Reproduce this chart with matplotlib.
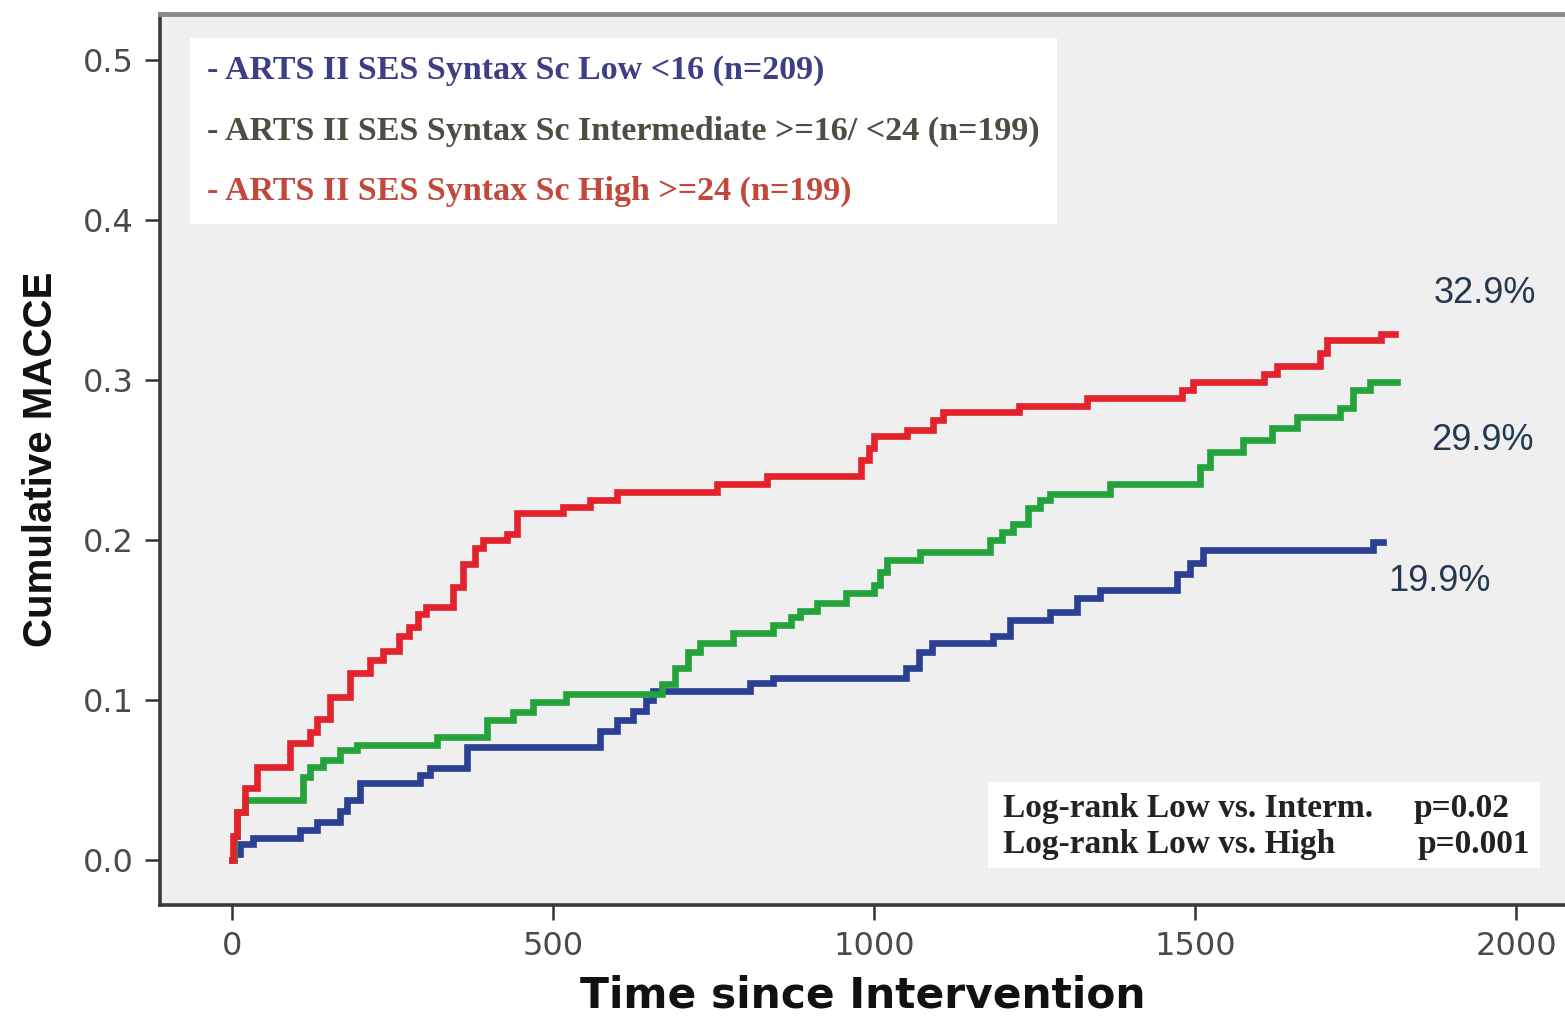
import matplotlib
matplotlib.use("Agg")
import matplotlib.pyplot as plt
from matplotlib.patches import Rectangle
from matplotlib.lines import Line2D

# ---- data ----
series_names = ["- ARTS II SES Syntax Sc Low <16 (n=209)",
                "- ARTS II SES Syntax Sc Intermediate >=16/ <24 (n=199)",
                "- ARTS II SES Syntax Sc High >=24 (n=199)"]

low_t = [0, 3, 12, 33, 106, 132, 168, 179, 199, 293, 308, 366, 573, 599, 625, 645, 656,
         807, 843, 1050, 1070, 1091, 1185, 1211, 1274, 1316, 1352, 1471, 1492, 1512, 1777, 1793]
low_v = [0, 0.004, 0.01, 0.014, 0.019, 0.024, 0.031, 0.0375, 0.048, 0.053, 0.0575, 0.071,
         0.081, 0.0875, 0.093, 0.1, 0.106, 0.111, 0.114, 0.12, 0.13, 0.136, 0.14, 0.15,
         0.155, 0.164, 0.169, 0.179, 0.186, 0.194, 0.199, 0.199]

int_t = [0, 3, 8, 20, 111, 121, 142, 168, 195, 319, 397, 438, 469, 521, 670, 690, 710, 729,
         780, 843, 870, 884, 911, 957, 1000, 1010, 1020, 1071, 1180, 1200, 1217, 1240, 1258,
         1274, 1367, 1507, 1523, 1574, 1620, 1658, 1725, 1746, 1772, 1815]
int_v = [0, 0.015, 0.03, 0.0375, 0.052, 0.058, 0.0625, 0.069, 0.072, 0.077, 0.0875, 0.0925,
         0.099, 0.104, 0.11, 0.12, 0.13, 0.136, 0.142, 0.147, 0.152, 0.156, 0.161, 0.167,
         0.172, 0.18, 0.1875, 0.1925, 0.2, 0.205, 0.21, 0.22, 0.225, 0.229, 0.235, 0.246,
         0.255, 0.2625, 0.27, 0.277, 0.283, 0.294, 0.299, 0.299]

high_t = [0, 2, 8, 20, 39, 90, 121, 132, 153, 184, 215, 235, 260, 275, 290, 303, 344, 360,
          378, 391, 428, 444, 516, 557, 599, 755, 833, 980, 992, 1000, 1051, 1092, 1107,
          1225, 1331, 1480, 1497, 1608, 1627, 1694, 1705, 1790, 1812]
high_v = [0, 0.015, 0.03, 0.045, 0.058, 0.073, 0.08, 0.088, 0.102, 0.117, 0.125, 0.131,
          0.14, 0.146, 0.154, 0.158, 0.171, 0.185, 0.195, 0.2, 0.204, 0.217, 0.221, 0.225,
          0.23, 0.235, 0.24, 0.25, 0.258, 0.265, 0.269, 0.275, 0.28, 0.284, 0.289, 0.294,
          0.299, 0.304, 0.309, 0.317, 0.325, 0.329, 0.329]

end_labels = ["19.9%", "29.9%", "32.9%"]
xticks = [0, 500, 1000, 1500, 2000]
yticks = [0.0, 0.1, 0.2, 0.3, 0.4, 0.5]
logrank_tests = ["Log-rank Low vs. Interm.", "Log-rank Low vs. High"]
logrank_p = ["p=0.02", "p=0.001"]

# ---- styles ----
line_colors = ["#2b3f93", "#25a33b", "#e2232d"]
legend_colors = ["#3d3f86", "#4d4d40", "#c2483c"]

fig = plt.figure(figsize=(15.65, 10.19), dpi=100)
fig.patch.set_facecolor("white")
ax = fig.add_axes([160 / 1565, 1 - 905 / 1019, 1 - 160 / 1565, (905 - 14) / 1019])
ax.set_facecolor("#efefef")

for t, v, c in zip([low_t, int_t, high_t], [low_v, int_v, high_v], line_colors):
    ax.step(t, v, where="post", color=c, lw=4.8, solid_joinstyle="miter", zorder=3)

ax.set_xlim(-112, 2076)
ax.set_ylim(-0.028, 0.529)
ax.set_xticks(xticks)
ax.set_xticklabels([str(x) for x in xticks])
ax.set_yticks(yticks)
ax.set_yticklabels(["%.1f" % y for y in yticks])
ax.tick_params(axis="both", direction="out", length=11, width=1.8, color="#333333",
               labelsize=23, labelcolor="#4a4a4a", pad=8)

for s in ["left", "bottom"]:
    ax.spines[s].set_color("#3a3a3a")
    ax.spines[s].set_linewidth(2.6)
ax.spines["right"].set_visible(False)
ax.spines["top"].set_color("#8a8a8a")
ax.spines["top"].set_linewidth(3.5)

ax.set_xlabel("Time since Intervention", fontsize=30.5, fontweight="bold",
              family="DejaVu Sans", color="#111111", labelpad=9)
ax.set_ylabel("Cumulative MACCE", fontsize=29, fontweight="bold",
              family="Liberation Sans", color="#111111", labelpad=16)

# legend
handles = [Line2D([], [], color=c, lw=0) for c in line_colors]
leg = ax.legend(handles, series_names, loc="upper left",
                bbox_to_anchor=((190 - 160) / 1405, (905 - 38) / 891),
                borderaxespad=0, handlelength=0, handletextpad=0, borderpad=0.5,
                labelspacing=0.86, frameon=True, fancybox=False, framealpha=1,
                facecolor="white", edgecolor="none",
                prop={"family": "Liberation Serif", "weight": "bold", "size": 24.5})
for txt, c in zip(leg.get_texts(), legend_colors):
    txt.set_color(c)

# end percentages
end_pos = [(1881, 0.174), (1948, 0.2625), (1951, 0.354)]
for (x, y), lab in zip(end_pos, end_labels):
    ax.text(x, y, lab, fontsize=26, family="Liberation Sans", color="#24384f",
            ha="center", va="center", zorder=4)

# log-rank box
ax.add_patch(Rectangle(((988 - 160) / 1405, (905 - 868) / 891), 552 / 1405, 86 / 891,
                       transform=ax.transAxes, facecolor="white", edgecolor="none", zorder=4))
for i, (lt, lp) in enumerate(zip(logrank_tests, logrank_p)):
    ypix = [808, 845][i]
    yfrac = (905 - ypix) / 891
    ax.text((1003 - 160) / 1405, yfrac, lt, transform=ax.transAxes, fontsize=24,
            family="Liberation Serif", weight="bold", color="#222222", va="center", zorder=5)
    ax.text(([1413, 1417][i] - 160) / 1405, yfrac, lp, transform=ax.transAxes, fontsize=24,
            family="Liberation Serif", weight="bold", color="#222222", va="center", zorder=5)

fig.savefig("out.png", dpi=100)
